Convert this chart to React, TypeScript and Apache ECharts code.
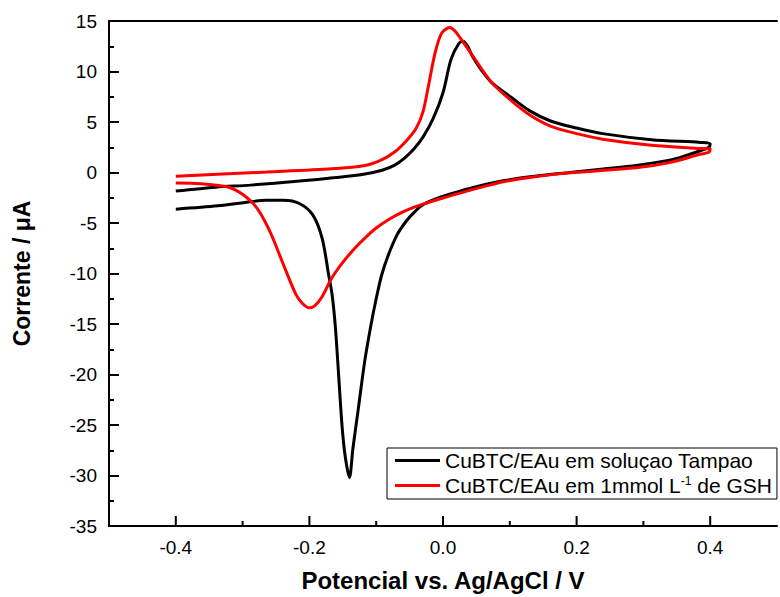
import React, { useEffect, useRef } from "react";
import * as echarts from "echarts";

const seriesNames = ["CuBTC/EAu em soluçao Tampao", "CuBTC/EAu em 1mmol L-1 de GSH"];

const xMajorTicks = [-0.4, -0.2, 0, 0.2, 0.4];
const xMinorTicks = [-0.3, -0.1, 0.1, 0.3];
const yMin = -35;

const bufferCurve: [number, number][] = [
  [-0.4, -1.83], [-0.34, -1.45], [-0.289, -1.25], [-0.215, -0.85], [-0.161, -0.5],
  [-0.117, -0.15], [-0.09, 0.25], [-0.073, 0.7], [-0.058, 1.4], [-0.044, 2.3],
  [-0.03, 3.5], [-0.015, 5.3], [0.0, 7.9], [0.012, 11.2], [0.024, 12.8],
  [0.03, 13.0], [0.037, 12.5], [0.044, 11.5], [0.058, 10.1], [0.073, 8.9],
  [0.103, 7.4], [0.13, 6.1], [0.161, 5.1], [0.2, 4.4], [0.239, 3.85],
  [0.312, 3.25], [0.385, 2.98], [0.4, 2.85],
  [0.398, 2.5], [0.385, 2.15], [0.36, 1.6], [0.337, 1.2], [0.289, 0.7],
  [0.24, 0.35], [0.19, 0.0], [0.14, -0.35], [0.092, -0.8], [0.044, -1.5],
  [0.02, -1.95], [-0.004, -2.45], [-0.029, -3.15], [-0.044, -4.0], [-0.056, -4.9],
  [-0.069, -6.2], [-0.082, -8.2], [-0.092, -10.2], [-0.1, -12.5], [-0.107, -14.8],
  [-0.117, -18.6], [-0.127, -23.5], [-0.135, -27.4], [-0.14, -30.2], [-0.146, -28.3],
  [-0.151, -25.2], [-0.156, -20.3], [-0.161, -15.4], [-0.166, -12.1], [-0.171, -10.2],
  [-0.181, -6.5], [-0.195, -4.2], [-0.215, -3.07], [-0.239, -2.75], [-0.264, -2.75],
  [-0.288, -2.9], [-0.337, -3.3], [-0.4, -3.63],
];

const gshCurve: [number, number][] = [
  [-0.4, -0.36], [-0.33, -0.15], [-0.264, 0.04], [-0.166, 0.36], [-0.117, 0.69],
  [-0.092, 1.25], [-0.073, 2.0], [-0.054, 3.2], [-0.04, 4.4], [-0.03, 6.0],
  [-0.022, 8.5], [-0.012, 11.8], [-0.002, 13.8], [0.01, 14.35], [0.018, 14.0],
  [0.026, 13.3], [0.044, 11.6], [0.073, 8.9], [0.103, 7.07], [0.13, 5.7],
  [0.161, 4.6], [0.2, 3.85], [0.239, 3.3], [0.312, 2.7], [0.385, 2.38], [0.4, 2.33],
  [0.398, 2.0], [0.385, 1.8], [0.337, 0.95], [0.289, 0.46], [0.19, -0.03],
  [0.14, -0.4], [0.092, -0.9], [0.044, -1.7], [-0.004, -2.6], [-0.029, -3.1],
  [-0.044, -3.45], [-0.06, -3.9], [-0.08, -4.6], [-0.1, -5.5], [-0.117, -6.5],
  [-0.132, -7.5], [-0.15, -8.9], [-0.166, -10.4], [-0.181, -12.3], [-0.192, -13.2],
  [-0.2, -13.4], [-0.21, -13.0], [-0.22, -12.1], [-0.239, -9.1], [-0.259, -5.85],
  [-0.278, -3.57], [-0.298, -2.26], [-0.322, -1.44], [-0.362, -1.11], [-0.4, -1.04],
];

const FONT = "'Liberation Sans', Arial, sans-serif";

// Tick marks drawn as small filled rects positioned through the chart's scales
const tickSeries = (values: number[], len: number) => ({
  type: "custom",
  silent: true,
  clip: false,
  z: 100,
  data: values.map((v) => [v, yMin]),
  renderItem: (_params: any, api: any) => {
    const p = api.coord([api.value(0), api.value(1)]);
    return {
      type: "rect",
      shape: { x: p[0] - 1, y: p[1] - len, width: 2, height: len },
      style: { fill: "#000" },
    };
  },
});

export default function App() {
  const ref = useRef<HTMLDivElement>(null);
  useEffect(() => {
    document.body.style.margin = "0";
    const chart = echarts.init(ref.current!, null, { renderer: "svg" });
    chart.setOption({
      animation: false,
      grid: {
        left: 109, top: 21, right: -11, bottom: 67,
        show: false,
        containLabel: false,
      },
      legend: {
        left: 387, top: 448, orient: "vertical",
        data: seriesNames,
        icon: "rect", itemWidth: 45, itemHeight: 3, itemGap: 4,
        padding: [2, 5, 2, 8],
        borderColor: "#000", borderWidth: 1,
        formatter: (name: string) =>
          name === seriesNames[1] ? "CuBTC/EAu em 1mmol L{sup|-1} de GSH" : name,
        textStyle: {
          fontFamily: FONT, fontSize: 21, color: "#000", lineHeight: 21,
          rich: { sup: { fontFamily: FONT, fontSize: 12, verticalAlign: "top", lineHeight: 21, padding: [0, 0, 10, 0], color: "#000" } },
        },
      },
      xAxis: [
        {
          type: "value", min: -0.5, max: 0.5, interval: 0.1, position: "bottom",
          name: "Potencial vs. Ag/AgCl / V", nameLocation: "middle", nameGap: 42,
          nameTextStyle: { fontFamily: FONT, fontSize: 24, fontWeight: "bold", color: "#000" },
          axisLine: { show: true, onZero: false, lineStyle: { color: "#000", width: 2 } },
          axisTick: { show: false },
          axisLabel: { show: true, margin: 12, fontFamily: FONT, fontSize: 19, color: "#000",
            formatter: (v: number) => (xMajorTicks.some((t) => Math.abs(t - v) < 1e-6) ? v.toFixed(1) : "") },
          splitLine: { show: false },
        },
        {
          type: "value", min: -0.5, max: 0.5, position: "top",
          axisLine: { show: true, onZero: false, lineStyle: { color: "#000", width: 2 } },
          axisTick: { show: false },
          axisLabel: { show: false },
          splitLine: { show: false },
        },
      ],
      yAxis: {
        type: "value", min: yMin, max: 15, interval: 5,
        name: "Corrente / μA", nameLocation: "middle", nameGap: 76, nameRotate: 90,
        nameTextStyle: { fontFamily: FONT, fontSize: 23, fontWeight: "bold", color: "#000" },
        axisLine: { show: true, onZero: false, lineStyle: { color: "#000", width: 2 } },
        axisTick: { show: true, inside: true, length: 10, lineStyle: { color: "#000", width: 2 } },
        minorTick: { show: true, splitNumber: 2, length: 5, lineStyle: { color: "#000", width: 2 } },
        axisLabel: { margin: 12, fontFamily: FONT, fontSize: 19, color: "#000" },
        splitLine: { show: false },
      },
      series: [
        {
          name: seriesNames[0], type: "line", data: bufferCurve, xAxisIndex: 0,
          showSymbol: false, symbol: "none", smooth: 0.3,
          lineStyle: { color: "#000000", width: 3 }, itemStyle: { color: "#000000" },
        },
        {
          name: seriesNames[1], type: "line", data: gshCurve, xAxisIndex: 0,
          showSymbol: false, symbol: "none", smooth: 0.3,
          lineStyle: { color: "#ff0000", width: 3 }, itemStyle: { color: "#ff0000" },
        },
        tickSeries(xMajorTicks, 10),
        tickSeries(xMinorTicks, 5),
      ],
    });
    return () => chart.dispose();
  }, []);
  return <div ref={ref} style={{ width: 780, height: 597 }} />;
}
